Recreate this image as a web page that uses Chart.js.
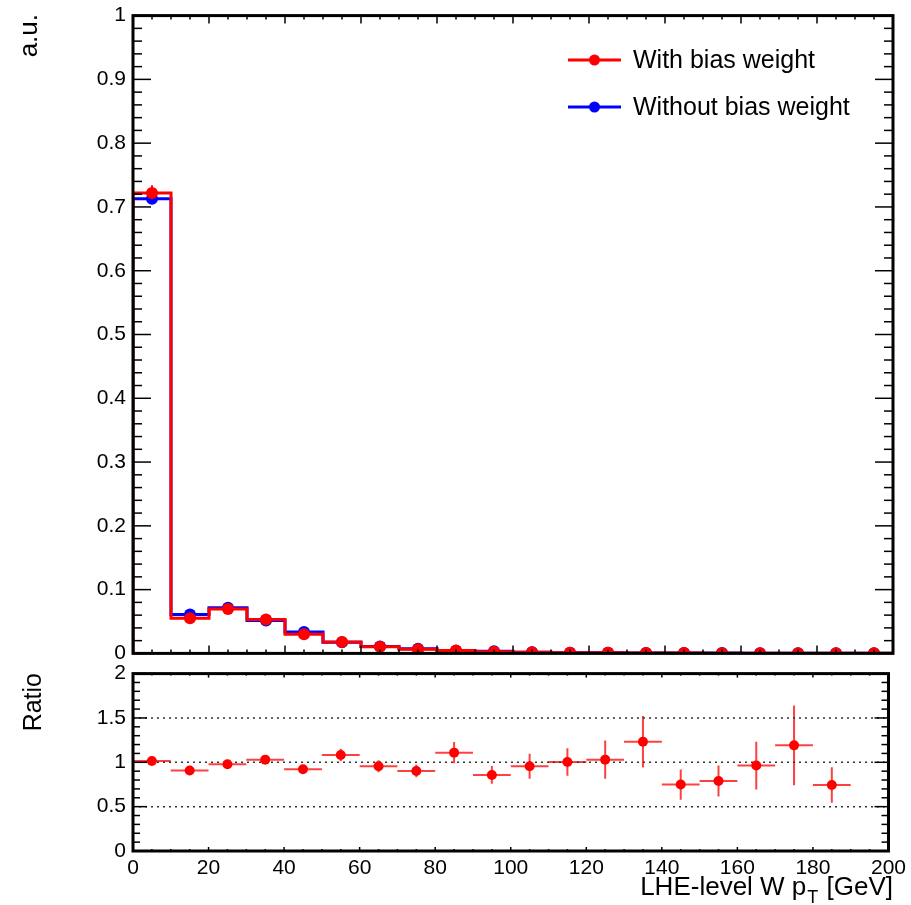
<!DOCTYPE html>
<html>
<head>
<meta charset="utf-8">
<script src="https://cdn.jsdelivr.net/npm/chart.js@4.4.0/dist/chart.umd.min.js"></script>
<style>
  body { margin: 0; background: #fff; }
  #wrap { position: relative; width: 911px; height: 905px; overflow: hidden; }
  canvas { position: absolute; left: 0; }
</style>
</head>
<body>
<div id="wrap">
  <canvas id="mainChart" width="911" height="677" style="top:-4px"></canvas>
  <canvas id="ratioChart" width="911" height="251" style="top:654px"></canvas>
</div>
<script>
// bin edges of LHE-level W pT [GeV]
const binEdges = [0, 10, 20, 30, 40, 50, 60, 70, 80, 90, 100, 110, 120, 130, 140, 150, 160, 170, 180, 190, 200];

// normalised distributions (a.u.)
const withBias = [0.722, 0.055, 0.0696, 0.053, 0.030, 0.0178, 0.0105, 0.0065, 0.0045, 0.0027,
                  0.0017, 0.0012, 0.0009, 0.0007, 0.0005, 0.0004, 0.0003, 0.0002, 0.0002, 0.0001];
const withBiasErr = [0.012, 0.002, 0.002, 0.002, 0.0015, 0.001, 0.001, 0.0005, 0.0005, 0.0003,
                     0.0002, 0.0002, 0.0002, 0.0002, 0.0001, 0.0001, 0.0001, 0.0001, 0.0001, 0.0001];
const withoutBias = [0.713, 0.061, 0.0715, 0.0515, 0.0335, 0.0173, 0.011, 0.0073, 0.0041, 0.0032,
                     0.0018, 0.0012, 0.0009, 0.0006, 0.0007, 0.0005, 0.0003, 0.0002, 0.0002, 0.0001];

// ratio with / without
const ratio = [1.015, 0.907, 0.978, 1.03, 0.921, 1.082, 0.955, 0.902, 1.109, 0.857,
               0.955, 1.003, 1.03, 1.232, 0.749, 0.79, 0.963, 1.191, 0.745, null];
const ratioErr = [0.02, 0.03, 0.03, 0.03, 0.035, 0.07, 0.067, 0.07, 0.12, 0.10,
                  0.14, 0.155, 0.215, 0.29, 0.17, 0.175, 0.27, 0.45, 0.2, null];
const ratioGridLines = [0.5, 1, 1.5];

const legendLabels = ['With bias weight', 'Without bias weight'];
const xTitle = ['LHE-level W p', 'T', ' [GeV]'];

const RED = '#ff0000';
const BLUE = '#0000ff';
const FONT = 'Liberation Sans, Arial, sans-serif';

const binCenters = binEdges.slice(0, -1).map((e, i) => (e + binEdges[i + 1]) / 2);

function stepData(vals) {
  const pts = [{ x: binEdges[0], y: 0 }];
  vals.forEach((v, i) => pts.push({ x: binEdges[i], y: v }));
  pts.push({ x: binEdges[binEdges.length - 1], y: vals[vals.length - 1] });
  pts.push({ x: binEdges[binEdges.length - 1], y: 0 });
  return pts;
}
function pointData(vals) {
  return vals.map((v, i) => ({ x: binCenters[i], y: v })).filter(p => p.y !== null);
}
const cleanLabel = v => String(parseFloat(Number(v).toFixed(3)));

// frame + inward ticks, ROOT style
const frameTicks = {
  id: 'frameTicks',
  afterDatasetsDraw(chart, args, o) {
    const { ctx, chartArea: a, scales: { x, y } } = chart;
    ctx.save();
    ctx.strokeStyle = '#000';
    ctx.lineWidth = 1.5;
    const seg = (x1, y1, x2, y2) => { ctx.beginPath(); ctx.moveTo(x1, y1); ctx.lineTo(x2, y2); ctx.stroke(); };
    const isMajor = (v, step) => Math.abs(v / step - Math.round(v / step)) < 1e-6;
    for (let v = x.min; v <= x.max + 1e-9; v += o.xMinor) {
      const px = x.getPixelForValue(v);
      const len = isMajor(v, o.xMajor) ? o.xLen[0] : o.xLen[1];
      seg(px, a.bottom, px, a.bottom - len);
      seg(px, a.top, px, a.top + len);
    }
    for (let i = 0; Math.round(i * o.yMinor * 1e6) <= Math.round(y.max * 1e6); i++) {
      const v = i * o.yMinor;
      const py = y.getPixelForValue(v);
      const len = isMajor(v, o.yMajor) ? o.yLen[0] : o.yLen[1];
      seg(a.left, py, a.left + len, py);
      seg(a.right, py, a.right - len, py);
    }
    ctx.lineWidth = 3;
    ctx.strokeRect(a.left, a.top, a.right - a.left, a.bottom - a.top);
    ctx.restore();
  }
};

// error bars drawn under the markers
const errorBars = {
  id: 'errorBars',
  beforeDatasetsDraw(chart, args, o) {
    const { ctx, scales: { x, y } } = chart;
    ctx.save();
    ctx.strokeStyle = o.color;
    ctx.lineWidth = 2;
    o.values.forEach((v, i) => {
      if (v === null) return;
      const e = o.errors[i];
      const cx = x.getPixelForValue(binCenters[i]);
      const cy = y.getPixelForValue(v);
      ctx.beginPath();
      ctx.moveTo(cx, y.getPixelForValue(v - e));
      ctx.lineTo(cx, y.getPixelForValue(v + e));
      if (o.horizontal) {
        ctx.moveTo(x.getPixelForValue(binEdges[i]), cy);
        ctx.lineTo(x.getPixelForValue(binEdges[i + 1]), cy);
      }
      ctx.stroke();
    });
    ctx.restore();
  }
};

const gridDots = {
  id: 'gridDots',
  beforeDatasetsDraw(chart, args, o) {
    if (!o.lines) return;
    const { ctx, chartArea: a, scales: { y } } = chart;
    ctx.save();
    ctx.strokeStyle = '#333';
    ctx.lineWidth = 1.5;
    ctx.setLineDash([2, 4]);
    o.lines.forEach(v => {
      const py = y.getPixelForValue(v);
      ctx.beginPath(); ctx.moveTo(a.left, py); ctx.lineTo(a.right, py); ctx.stroke();
    });
    ctx.restore();
  }
};

const texts = {
  id: 'texts',
  afterDraw(chart, args, o) {
    const ctx = chart.ctx;
    ctx.save();
    ctx.fillStyle = '#000';
    if (o.yTitle) {
      ctx.save();
      ctx.font = o.yTitle.size + 'px ' + FONT;
      ctx.translate(o.yTitle.x, o.yTitle.y);
      ctx.rotate(-Math.PI / 2);
      ctx.textAlign = 'right';
      ctx.textBaseline = 'alphabetic';
      ctx.fillText(o.yTitle.text, 0, 0);
      ctx.restore();
    }
    if (o.legend) {
      const L = o.legend;
      ctx.font = L.size + 'px ' + FONT;
      ctx.textBaseline = 'middle';
      ctx.textAlign = 'left';
      legendLabels.forEach((lab, i) => {
        const ly = L.y + i * L.dy;
        const col = chart.data.datasets.find(d => d.label === lab).borderColor;
        ctx.strokeStyle = col;
        ctx.lineWidth = 3;
        ctx.beginPath(); ctx.moveTo(L.x, ly); ctx.lineTo(L.x + 53, ly); ctx.stroke();
        ctx.fillStyle = col;
        ctx.beginPath(); ctx.arc(L.x + 26.5, ly, 5.5, 0, Math.PI * 2); ctx.fill();
        ctx.fillStyle = '#000';
        ctx.fillText(lab, L.x + 65, ly + 1);
      });
    }
    if (o.xTitle) {
      const T = o.xTitle;
      const big = T.size + 'px ' + FONT;
      const small = Math.round(T.size * 0.7) + 'px ' + FONT;
      ctx.textBaseline = 'alphabetic';
      ctx.textAlign = 'left';
      ctx.font = big;
      const w0 = ctx.measureText(xTitle[0]).width;
      const w2 = ctx.measureText(xTitle[2]).width;
      ctx.font = small;
      const w1 = ctx.measureText(xTitle[1]).width;
      let cx = T.right - (w0 + w1 + w2 + 2);
      ctx.font = big; ctx.fillText(xTitle[0], cx, T.y); cx += w0 + 1;
      ctx.font = small; ctx.fillText(xTitle[1], cx, T.y + 8); cx += w1 + 1;
      ctx.font = big; ctx.fillText(xTitle[2], cx, T.y);
    }
    ctx.restore();
  }
};

Chart.register(frameTicks, errorBars, gridDots, texts);

const tickFont = { family: FONT, size: 21 };

new Chart(document.getElementById('mainChart'), {
  type: 'line',
  data: {
    datasets: [
      { label: 'With bias weight', data: pointData(withBias), showLine: false, pointRadius: 6,
        pointBackgroundColor: RED, pointBorderWidth: 0, borderColor: RED },
      { label: 'with-hist', data: stepData(withBias), stepped: true, borderColor: RED, borderWidth: 3,
        pointRadius: 0, fill: false },
      { label: 'Without bias weight', data: pointData(withoutBias), showLine: false, pointRadius: 6,
        pointBackgroundColor: BLUE, pointBorderWidth: 0, borderColor: BLUE },
      { label: 'without-hist', data: stepData(withoutBias), stepped: true, borderColor: BLUE, borderWidth: 3,
        pointRadius: 0, fill: false }
    ]
  },
  options: {
    responsive: false,
    animation: false,
    layout: { padding: { top: 14, right: 18, left: 0, bottom: 0 } },
    scales: {
      x: {
        type: 'linear', min: 0, max: 200,
        grid: { display: false }, border: { display: false },
        ticks: { display: false },
        afterFit: s => { s.height = 10; }
      },
      y: {
        min: 0, max: 1,
        grid: { display: false, drawTicks: false }, border: { display: false },
        ticks: { stepSize: 0.1, font: tickFont, color: '#000', padding: 7, callback: cleanLabel },
        afterFit: s => { s.width = 133; }
      }
    },
    plugins: {
      legend: { display: false },
      tooltip: { enabled: false },
      frameTicks: { xMajor: 20, xMinor: 5, xLen: [8, 4], yMajor: 0.1, yMinor: 0.02, yLen: [18, 9] },
      errorBars: { values: withBias, errors: withBiasErr, color: RED, horizontal: false },
      gridDots: {},
      texts: {
        yTitle: { text: 'a.u.', x: 37, y: 18, size: 26 },
        legend: { x: 568, y: 64, dy: 47, size: 25 }
      }
    }
  }
});

new Chart(document.getElementById('ratioChart'), {
  type: 'line',
  data: {
    datasets: [
      { label: 'Ratio', data: pointData(ratio), showLine: false, pointRadius: 5,
        pointBackgroundColor: RED, pointBorderWidth: 0, borderColor: RED }
    ]
  },
  options: {
    responsive: false,
    animation: false,
    layout: { padding: { top: 11, right: 18, left: 0, bottom: 0 } },
    scales: {
      x: {
        type: 'linear', min: 0, max: 200,
        grid: { display: false, drawTicks: false }, border: { display: false },
        ticks: { stepSize: 20, font: tickFont, color: '#000', padding: 5, maxRotation: 0 },
        afterFit: s => { s.height = 54; }
      },
      y: {
        min: 0, max: 2,
        grid: { display: false, drawTicks: false }, border: { display: false },
        ticks: { stepSize: 0.5, font: tickFont, color: '#000', padding: 7, callback: cleanLabel },
        afterFit: s => { s.width = 133; }
      }
    },
    plugins: {
      legend: { display: false },
      tooltip: { enabled: false },
      frameTicks: { xMajor: 20, xMinor: 5, xLen: [4, 2], yMajor: 0.5, yMinor: 0.1, yLen: [14, 7] },
      errorBars: { values: ratio, errors: ratioErr, color: 'rgba(255,0,0,0.75)', horizontal: true },
      gridDots: { lines: ratioGridLines },
      texts: {
        yTitle: { text: 'Ratio', x: 41, y: 19, size: 25 },
        xTitle: { right: 893, y: 241, size: 26 }
      }
    }
  }
});
</script>
</body>
</html>
